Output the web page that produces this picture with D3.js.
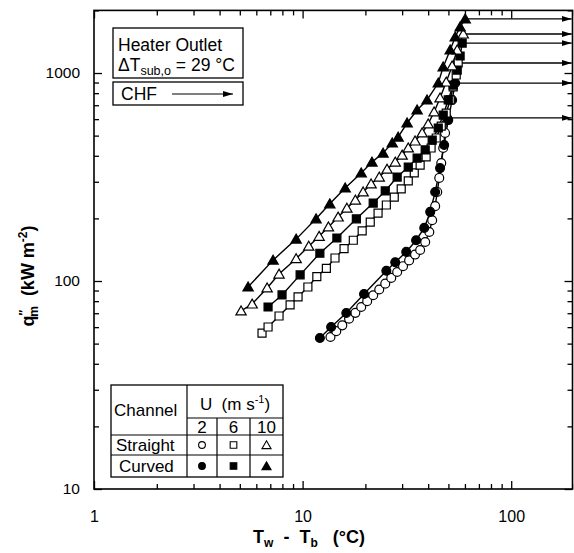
<!DOCTYPE html>
<html><head><meta charset="utf-8">
<script src="https://cdn.jsdelivr.net/npm/d3@7"></script>
<style>body{margin:0;background:#fff}svg{font-family:"Liberation Sans",Arial,Helvetica,sans-serif}</style>
</head><body><svg id="c" width="574" height="553"></svg>
<script>
// ---- data (T_w - T_b in °C, q''_m in kW m^-2) ----
const straight2X = [13.6,14.5,15.5,16.7,17.9,19.1,20.4,21.8,23.3,24.9,26.6,28.4,30.3,32.4,34.6,36.6,38.7,40.5,41.8,43.2,44.2,45.2,46.2,47.2,48.2,49.3];
const straight2Y = [53.8,57.4,61.2,65.9,70.3,75.0,80.0,85.4,91.0,97.1,103.5,110.5,117.8,125.6,134,141,154,172,196,229,268,313,369,436,515,608];
const curved2X = [12.1,13.7,16.2,19.7,25.2,27.8,31.4,35.0,38.3,40.9,43.2,45.6,47.7,49.9,52.1,53.9];
const curved2Y = [53.2,60.1,70.2,86.6,112,123,138,157,180,215,268,349,451,594,742,895];
const straight6X = [6.39,6.83,7.71,8.71,9.51,10.6,11.7,13.0,14.3,15.8,17.5,19.3,21.1,23.0,25.2,27.5,29.7,32.1,34.3,36.6,39.1,41.3,43.7,46.2,48.8,51.0,52.7,54.5,55.7];
const straight6Y = [56.2,60.1,67.9,76.7,83.8,93.6,105,115,129,143,157,174,192,212,232,253,277,303,331,361,395,436,487,556,642,742,857,978,1117];
const curved6X = [6.83,7.97,9.73,12.1,14.6,18.1,21.8,24.9,28.4,32.1,35.4,38.7,41.8,44.7,47.2,49.9,52.7,55.1,56.9,58.2];
const curved6Y = [75.0,85.7,107,136,161,199,237,271,316,353,390,427,476,544,628,742,875,1033,1207,1393];
const straight10X = [5.07,5.73,6.76,7.71,9.31,10.7,12.0,13.3,14.8,16.3,17.9,19.5,21.3,23.3,25.4,27.8,30.0,32.1,34.6,37.4,40.0,42.7,45.6,48.8,52.1,55.1,58.9];
const straight10Y = [71.8,77.5,92.6,108,128,147,164,182,203,224,245,268,293,316,345,373,403,436,471,515,569,650,759,905,1081,1290,1540];
const curved10X = [5.48,7.22,9.31,11.6,13.5,16.0,19.1,21.5,24.3,26.9,28.7,31.7,35.4,39.5,44.7,47.2,51.0,53.9,56.9,60.2];
const curved10Y = [93.6,126,159,199,235,280,331,373,412,461,492,575,664,742,895,1069,1290,1490,1665,1820];

const chfArrowEnd = 195;                 // CHF arrows run to the right frame
const xMajorTicks = [1, 10, 100];
const yMajorTicks = [10, 100, 1000];
const channels = ["Straight", "Curved"];
const velocities = ["2", "6", "10"];

const seriesList = [
  {x: straight2X,  y: straight2Y,  shape: "circle",   filled: false},
  {x: curved2X,    y: curved2Y,    shape: "circle",   filled: true},
  {x: straight6X,  y: straight6Y,  shape: "square",   filled: false},
  {x: curved6X,    y: curved6Y,    shape: "square",   filled: true},
  {x: straight10X, y: straight10Y, shape: "triangle", filled: false},
  {x: curved10X,   y: curved10Y,   shape: "triangle", filled: true}
];

// ---- layout ----
const L = 94, R = 574, T = 10.4, B = 489;
const svg = d3.select("#c");
const x = d3.scaleLog().domain([1, 200]).range([L, R]);
const y = d3.scaleLog().domain([10, 2000]).range([B, T]);

const minorX = [];
[1, 10, 100].forEach(d => { for (let k = 2; k <= 9; k++) if (d * k <= 200) minorX.push(d * k); });
const minorY = [];
[10, 100, 1000].forEach(d => { for (let k = 2; k <= 9; k++) if (d * k <= 2000) minorY.push(d * k); });

const fmt = d => String(d);
// bottom
svg.append("g").attr("class", "xb").attr("transform", `translate(0,${B})`)
  .call(d3.axisBottom(x).tickValues(xMajorTicks).tickFormat(fmt).tickSizeInner(-8).tickSizeOuter(0).tickPadding(22))
  .call(g => g.select(".domain").remove());
svg.append("g").attr("transform", `translate(0,${B})`)
  .call(d3.axisBottom(x).tickValues(minorX).tickFormat("").tickSizeInner(-5).tickSizeOuter(0))
  .call(g => g.select(".domain").remove());
// top
svg.append("g").attr("transform", `translate(0,${T})`)
  .call(d3.axisTop(x).tickValues(xMajorTicks).tickFormat("").tickSizeInner(-8).tickSizeOuter(0))
  .call(g => g.select(".domain").remove());
svg.append("g").attr("transform", `translate(0,${T})`)
  .call(d3.axisTop(x).tickValues(minorX).tickFormat("").tickSizeInner(-5).tickSizeOuter(0))
  .call(g => g.select(".domain").remove());
// left
svg.append("g").attr("class", "yl").attr("transform", `translate(${L},0)`)
  .call(d3.axisLeft(y).tickValues(yMajorTicks).tickFormat(fmt).tickSizeInner(-8).tickSizeOuter(0).tickPadding(14))
  .call(g => g.select(".domain").remove());
svg.append("g").attr("transform", `translate(${L},0)`)
  .call(d3.axisLeft(y).tickValues(minorY).tickFormat("").tickSizeInner(-5).tickSizeOuter(0))
  .call(g => g.select(".domain").remove());
// right
svg.append("g").attr("transform", `translate(${R - 1.5},0)`)
  .call(d3.axisRight(y).tickValues(yMajorTicks).tickFormat("").tickSizeInner(-8).tickSizeOuter(0))
  .call(g => g.select(".domain").remove());
svg.append("g").attr("transform", `translate(${R - 1.5},0)`)
  .call(d3.axisRight(y).tickValues(minorY).tickFormat("").tickSizeInner(-5).tickSizeOuter(0))
  .call(g => g.select(".domain").remove());

svg.selectAll(".tick line").attr("stroke", "#000").attr("stroke-width", 1.3);
svg.selectAll(".tick text").attr("fill", "#000")
  .attr("font-family", '"Liberation Sans",Arial,sans-serif');
svg.selectAll(".xb .tick text").attr("font-size", 16);
svg.selectAll(".yl .tick text").attr("font-size", 15.5);

// frame
svg.append("rect").attr("x", L).attr("y", T).attr("width", R - 1.5 - L).attr("height", B - T)
  .attr("fill", "none").attr("stroke", "#000").attr("stroke-width", 1.6);

// ---- CHF arrows ----
const defs = svg.append("defs");
defs.append("marker").attr("id", "ah").attr("viewBox", "0 0 10 6").attr("refX", 10).attr("refY", 3)
  .attr("markerWidth", 10).attr("markerHeight", 6).attr("markerUnits", "userSpaceOnUse").attr("orient", "auto")
  .append("path").attr("d", "M0,0 L10,3 L0,6 Z").attr("fill", "#000");

seriesList.forEach(s => {
  const n = s.x.length - 1;
  svg.append("line").attr("x1", x(s.x[n])).attr("y1", y(s.y[n]))
    .attr("x2", x(chfArrowEnd)).attr("y2", y(s.y[n]))
    .attr("stroke", "#000").attr("stroke-width", 1.3).attr("marker-end", "url(#ah)");
});

// ---- series ----
const symType = {circle: d3.symbolCircle, square: d3.symbolSquare, triangle: d3.symbolTriangle};
const symSize = {circle: 62, square: 64, triangle: 46};
const line = d3.line().x(d => x(d[0])).y(d => y(d[1]));
seriesList.forEach(s => {
  const pts = s.x.map((v, i) => [v, s.y[i]]);
  svg.append("path").datum(pts).attr("d", line).attr("fill", "none").attr("stroke", "#000").attr("stroke-width", 1.4);
});
seriesList.forEach(s => {
  const pts = s.x.map((v, i) => [v, s.y[i]]);
  svg.append("g").selectAll("path").data(pts).join("path")
    .attr("transform", d => `translate(${x(d[0])},${y(d[1]) + (s.shape === "triangle" ? 1 : 0)})`)
    .attr("d", d3.symbol().type(symType[s.shape]).size(symSize[s.shape]))
    .attr("fill", s.filled ? "#000" : "#fff").attr("stroke", "#000").attr("stroke-width", 1.2);
});

// ---- axis titles ----
const yt = svg.append("text").attr("transform", "translate(34,276) rotate(-90)")
  .attr("text-anchor", "middle").attr("font-size", 18).attr("font-weight", "bold").attr("xml:space", "preserve");
yt.append("tspan").text("q");
yt.append("tspan").attr("font-size", 12).attr("dy", -6).text("\u2033");
yt.append("tspan").attr("font-size", 12).attr("dy", 10).attr("dx", -7).text("m");
yt.append("tspan").attr("dy", -4).text("  (kW m");
yt.append("tspan").attr("font-size", 12).attr("dy", -7).text("-2");
yt.append("tspan").attr("dy", 7).text(")");

const xt = svg.append("text").attr("x", 309).attr("y", 543).attr("text-anchor", "middle")
  .attr("font-size", 18).attr("font-weight", "bold").attr("xml:space", "preserve");
xt.append("tspan").text("T");
xt.append("tspan").attr("font-size", 12).attr("dy", 4).text("w");
xt.append("tspan").attr("dy", -4).text("  -  T");
xt.append("tspan").attr("font-size", 12).attr("dy", 4).text("b");
xt.append("tspan").attr("dy", -4).text("   (\u00B0C)");

// ---- info boxes ----
const box = (x0, y0, w, h) => svg.append("rect").attr("x", x0).attr("y", y0).attr("width", w).attr("height", h)
  .attr("fill", "#fff").attr("stroke", "#000").attr("stroke-width", 1.3);
box(113, 28, 130, 50);
svg.append("text").attr("x", 118).attr("y", 51).attr("font-size", 17.5).text("Heater Outlet");
const dt = svg.append("text").attr("x", 118).attr("y", 71).attr("font-size", 17.5).attr("xml:space", "preserve");
dt.append("tspan").text("\u0394T");
dt.append("tspan").attr("font-size", 12.5).attr("dy", 4).text("sub,o");
dt.append("tspan").attr("dy", -4).text(" = 29 \u00B0C");
box(113, 82, 130, 23);
svg.append("text").attr("x", 121).attr("y", 100).attr("font-size", 17.5).text("CHF");
svg.append("line").attr("x1", 172).attr("y1", 94).attr("x2", 233).attr("y2", 94)
  .attr("stroke", "#000").attr("stroke-width", 1.2).attr("marker-end", "url(#ah)");

// ---- legend table ----
const tx0 = 111, tx1 = 187, tx2 = 217, tx3 = 250, tx4 = 283;
const ty0 = 385, ty1 = 418, ty2 = 435, ty3 = 455, ty4 = 477;
svg.append("rect").attr("x", tx0).attr("y", ty0).attr("width", tx4 - tx0).attr("height", ty4 - ty0)
  .attr("fill", "#fff").attr("stroke", "#000").attr("stroke-width", 1.3);
const seg = (a, b, c, d) => svg.append("line").attr("x1", a).attr("y1", b).attr("x2", c).attr("y2", d)
  .attr("stroke", "#000").attr("stroke-width", 1.2);
seg(tx1, ty0, tx1, ty4);
seg(tx1, ty1, tx4, ty1);
seg(tx0, ty2, tx4, ty2);
seg(tx0, ty3, tx4, ty3);
seg(tx2, ty1, tx2, ty4);
seg(tx3, ty1, tx3, ty4);
svg.append("text").attr("x", 114).attr("y", 416).attr("font-size", 17).text("Channel");
const ut = svg.append("text").attr("x", 235).attr("y", 410).attr("text-anchor", "middle").attr("font-size", 17).attr("xml:space", "preserve");
ut.append("tspan").text("U  (m s");
ut.append("tspan").attr("font-size", 11).attr("dy", -7).text("-1");
ut.append("tspan").attr("dy", 7).text(")");
const colC = [(tx1 + tx2) / 2, (tx2 + tx3) / 2, (tx3 + tx4) / 2];
velocities.forEach((v, i) => svg.append("text").attr("x", colC[i]).attr("y", 433).attr("text-anchor", "middle").attr("font-size", 17).text(v));
const rowC = [(ty2 + ty3) / 2, (ty3 + ty4) / 2];
channels.forEach((c, i) => svg.append("text").attr("x", i === 0 ? 116 : 119).attr("y", rowC[i] + 6).attr("font-size", 17).text(c));
const legShapes = ["circle", "square", "triangle"];
channels.forEach((c, i) => legShapes.forEach((sh, j) => {
  svg.append("path").attr("transform", `translate(${colC[j]},${rowC[i] + (sh === "triangle" ? 1 : 0)})`)
    .attr("d", d3.symbol().type(symType[sh]).size(sh === "circle" ? 36 : sh === "square" ? 44 : 36))
    .attr("fill", i === 1 ? "#000" : "#fff").attr("stroke", "#000").attr("stroke-width", 1.1);
}));
</script></body></html>
